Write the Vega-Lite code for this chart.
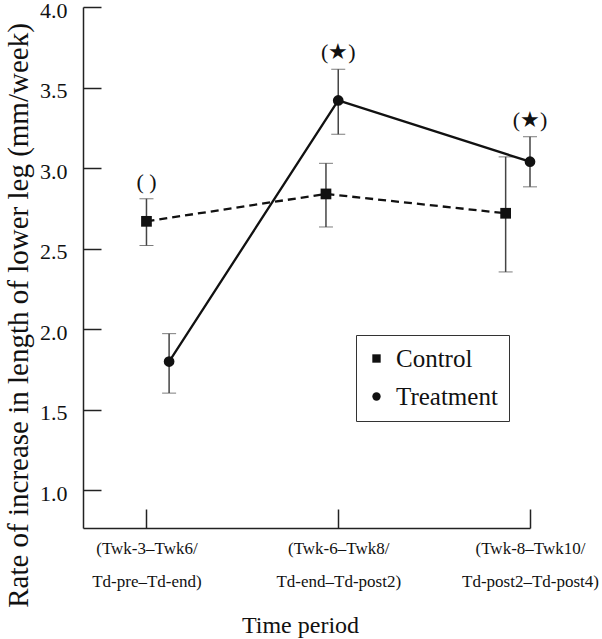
{
  "$schema": "https://vega.github.io/schema/vega-lite/v6.json",
  "autosize": {"type": "none"},
  "padding": {"left": 83, "top": 7, "right": 72, "bottom": 111},
  "width": 447,
  "height": 521,
  "background": "white",
  "config": {
    "view": {"stroke": null},
    "font": "Liberation Serif",
    "axis": {"grid": false, "domainColor": "#222", "tickColor": "#222", "domainWidth": 1.5, "tickWidth": 1.5, "labelColor": "#111", "titleColor": "#111", "labelFont": "Liberation Serif", "titleFont": "Liberation Serif", "titleFontWeight": "normal"},
    "legend": {"labelFont": "Liberation Serif"}
  },
  "data": {
    "values": [
      {"group": "Control", "pos": 1.0, "mean": 2.67, "lo": 2.52, "hi": 2.81, "sig": "( )"},
      {"group": "Control", "pos": 1.936, "mean": 2.84, "lo": 2.635, "hi": 3.03, "sig": ""},
      {"group": "Control", "pos": 2.873, "mean": 2.72, "lo": 2.356, "hi": 3.07, "sig": ""},
      {"group": "Treatment", "pos": 1.118, "mean": 1.80, "lo": 1.604, "hi": 1.973, "sig": ""},
      {"group": "Treatment", "pos": 2.0, "mean": 3.42, "lo": 3.21, "hi": 3.613, "sig": "(★)"},
      {"group": "Treatment", "pos": 3.0, "mean": 3.04, "lo": 2.884, "hi": 3.195, "sig": "(★)"}
    ]
  },
  "encoding": {
    "x": {
      "field": "pos", "type": "quantitative",
      "scale": {"domain": [0.669, 3], "nice": false, "zero": false},
      "axis": {
        "values": [1, 2, 3],
        "tickSize": -19,
        "labelPadding": 31,
        "labelFontSize": 17,
        "labelBaseline": "top",
        "labelLineHeight": 33,
        "labelExpr": "datum.value == 1 ? ['(Twk-3–Twk6/', 'Td-pre–Td-end)'] : datum.value == 2 ? ['(Twk-6–Twk8/', 'Td-end–Td-post2)'] : ['(Twk-8–Twk10/', 'Td-post2–Td-post4)']",
        "labelFlush": false,
        "labelOverlap": false,
        "title": "Time period",
        "titleFontSize": 24,
        "titleX": 217,
        "titleY": 97,
        "titleBaseline": "middle",
        "titleAlign": "center"
      }
    }
  },
  "layer": [
    {
      "mark": {"type": "errorbar", "ticks": {"size": 14, "color": "#444", "strokeWidth": 1.5}, "rule": {"color": "#444", "strokeWidth": 1.5}},
      "encoding": {
        "y": {
          "field": "lo", "type": "quantitative",
          "scale": {"domain": [0.767, 4.0], "nice": false, "zero": false},
          "title": "Rate of increase in length of lower leg (mm/week)",
          "axis": {
            "values": [1.0, 1.5, 2.0, 2.5, 3.0, 3.5, 4.0],
            "format": ".1f",
            "tickSize": -18,
            "labelPadding": 34,
            "labelFontSize": 22,
            "labelOffset": 3,
            "titleFontSize": 29,
            "titleAngle": 270,
            "titleX": -65,
            "titleY": 308,
            "titleAlign": "center",
            "titleBaseline": "middle"
          }
        },
        "y2": {"field": "hi"},
        "detail": {"field": "group"}
      }
    },
    {
      "transform": [{"filter": "datum.group == 'Control'"}],
      "mark": {"type": "line", "color": "#111", "strokeWidth": 2.3, "strokeDash": [8, 5]},
      "encoding": {
        "y": {"field": "mean", "type": "quantitative"}
      }
    },
    {
      "transform": [{"filter": "datum.group == 'Treatment'"}],
      "mark": {"type": "line", "color": "#111", "strokeWidth": 2.3},
      "encoding": {
        "y": {"field": "mean", "type": "quantitative"}
      }
    },
    {
      "mark": {"type": "point", "filled": true, "color": "#111", "opacity": 1, "size": 115},
      "encoding": {
        "y": {"field": "mean", "type": "quantitative"},
        "shape": {
          "field": "group", "type": "nominal",
          "scale": {"domain": ["Control", "Treatment"], "range": ["square", "circle"]},
          "legend": {
            "title": null,
            "orient": "none",
            "legendX": 273,
            "legendY": 328,
            "direction": "vertical",
            "fillColor": "white",
            "strokeColor": "#333",
            "padding": 11,
            "labelFont": "Liberation Serif",
            "labelFontSize": 25,
            "labelColor": "#111",
            "labelOffset": 7,
            "symbolOffset": -3,
            "rowPadding": 12,
            "symbolSize": 70,
            "symbolFillColor": "#111",
            "symbolStrokeColor": "#111",
            "symbolStrokeWidth": 0
          }
        }
      }
    },
    {
      "mark": {"type": "text", "baseline": "bottom", "dy": -5, "fontSize": 22, "color": "#111", "font": "Liberation Serif"},
      "encoding": {
        "y": {"field": "hi", "type": "quantitative"},
        "text": {"field": "sig"}
      }
    }
  ]
}
